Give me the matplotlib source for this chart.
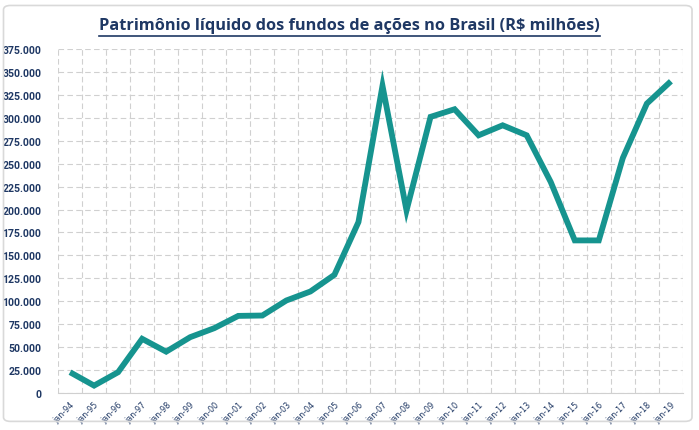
import numpy as np
import matplotlib.pyplot as plt
from matplotlib.patches import FancyBboxPatch

# dados (R$ milhoes)
anos = ["jan-94", "jan-95", "jan-96", "jan-97", "jan-98", "jan-99", "jan-00",
        "jan-01", "jan-02", "jan-03", "jan-04", "jan-05", "jan-06", "jan-07",
        "jan-08", "jan-09", "jan-10", "jan-11", "jan-12", "jan-13", "jan-14",
        "jan-15", "jan-16", "jan-17", "jan-18", "jan-19"]
patrimonio = [22600, 8000, 22600, 59000, 45000, 60800, 70600, 84000, 84400,
              100800, 110600, 128800, 186300, 334800, 199000, 301000, 309300,
              280900, 291800, 280900, 230000, 166300, 166300, 256200, 315500,
              339800]
y_ticks = list(range(0, 375001, 25000))

azul = "#1F3864"
verde = "#16948F"
fonte = ["Roboto", "DejaVu Sans"]

fig = plt.figure(figsize=(6.99, 4.31), dpi=100)
ax = fig.add_axes([0.083, 0.086, 0.894, 0.798])

x = np.arange(len(anos))
ax.plot(x, patrimonio, color=verde, linewidth=4.2, solid_joinstyle="miter",
        solid_capstyle="butt", zorder=3)

ax.set_xlim(-0.5, len(anos) - 0.5)
ax.set_ylim(0, 375000)

# grade tracejada
ax.set_yticks(y_ticks)
ax.set_yticklabels(["0" if v == 0 else f"{v:,}".replace(",", ".") for v in y_ticks],
                   fontweight="bold", fontfamily=fonte, fontsize=7.6, color=azul)
ax.set_xticks(x)
ax.set_xticks(np.arange(-0.5, len(anos)), minor=True)
ax.grid(True, which="major", axis="y", color="#D0D0D0", linestyle=(0, (5, 3)), linewidth=0.8)
ax.grid(True, which="minor", axis="x", color="#D0D0D0", linestyle=(0, (5, 3)), linewidth=0.8)
ax.set_axisbelow(True)

for s in ["top", "right", "left"]:
    ax.spines[s].set_visible(False)
ax.spines["bottom"].set_color("#D0D0D0")
ax.spines["bottom"].set_linewidth(0.8)

ax.tick_params(axis="y", length=0, pad=12)
ax.set_xticklabels(anos, rotation=45, ha="right", rotation_mode="anchor",
                   fontsize=5.8, color=azul)
ax.tick_params(axis="x", which="both", length=0, pad=5)

titulo = fig.text(0.5, 0.94, "Patrimônio líquido dos fundos de ações no Brasil (R$ milhões)",
                  ha="center", va="center", fontsize=11.8, fontweight="bold", color=azul,
                  fontfamily="Open Sans")
# sublinhado do titulo, com a largura do texto
fig.canvas.draw()
bb = titulo.get_window_extent().transformed(fig.transFigure.inverted())
fig.add_artist(plt.Line2D([bb.x0, bb.x1], [0.915, 0.915], color=azul, linewidth=1.2))

# moldura do grafico
fig.add_artist(FancyBboxPatch((0.005, 0.02), 0.985, 0.965,
                              boxstyle="round,pad=0,rounding_size=0.01",
                              transform=fig.transFigure, fill=False,
                              edgecolor="#D9D9D9", linewidth=1.2))

fig.savefig("out.png", dpi=100)
